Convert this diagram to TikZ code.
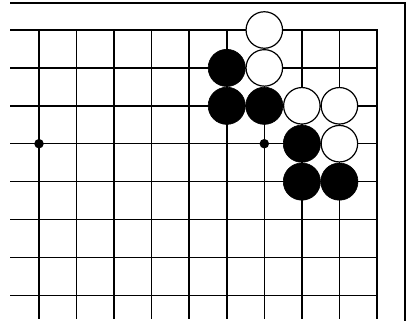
\documentclass[tikz,border=0pt]{standalone}
\begin{document}
\begin{tikzpicture}[x=1pt,y=-1pt,
  gridline/.style={line width=1.5pt, black},
  frameline/.style={line width=2pt, black},
  bstone/.style={circle, fill=black, draw=black, line width=0.6pt, minimum size=37.2pt, inner sep=0pt},
  wstone/.style={circle, fill=white, draw=black, line width=1.2pt, minimum size=36.5pt, inner sep=0pt},
  hoshi/.style={circle, fill=black, minimum size=9.5pt, inner sep=0pt}]
\useasboundingbox (0,0) rectangle (411,321);
% outer frame
\draw[frameline] (10,3.5) -- (405,3.5) -- (405,321);
% grid
\foreach \j in {1,...,7} \draw[gridline] (10,{30+37.9*\j}) -- (377,{30+37.9*\j});
\foreach \i in {0,...,8} \draw[gridline] ({39+37.55*\i},30) -- ({39+37.55*\i},319);
\draw[gridline, line join=miter] (10,30) -- (377,30) -- (377,319);
% star points
\node[hoshi] (h1) at (39,{30+37.9*3}) {};
\node[hoshi] (h2) at ({39+37.55*6},{30+37.9*3}) {};
% stones
\node[wstone] (w1) at ({39+37.55*6},{30+37.9*0}) {};
\node[bstone] (b1) at ({39+37.55*5},{30+37.9*1}) {};
\node[wstone] (w2) at ({39+37.55*6},{30+37.9*1}) {};
\node[bstone] (b2) at ({39+37.55*5},{30+37.9*2}) {};
\node[bstone] (b3) at ({39+37.55*6},{30+37.9*2}) {};
\node[wstone] (w3) at ({39+37.55*7},{30+37.9*2}) {};
\node[wstone] (w4) at ({39+37.55*8},{30+37.9*2}) {};
\node[bstone] (b4) at ({39+37.55*7},{30+37.9*3}) {};
\node[wstone] (w5) at ({39+37.55*8},{30+37.9*3}) {};
\node[bstone] (b5) at ({39+37.55*7},{30+37.9*4}) {};
\node[bstone] (b6) at ({39+37.55*8},{30+37.9*4}) {};
\end{tikzpicture}
\end{document}
